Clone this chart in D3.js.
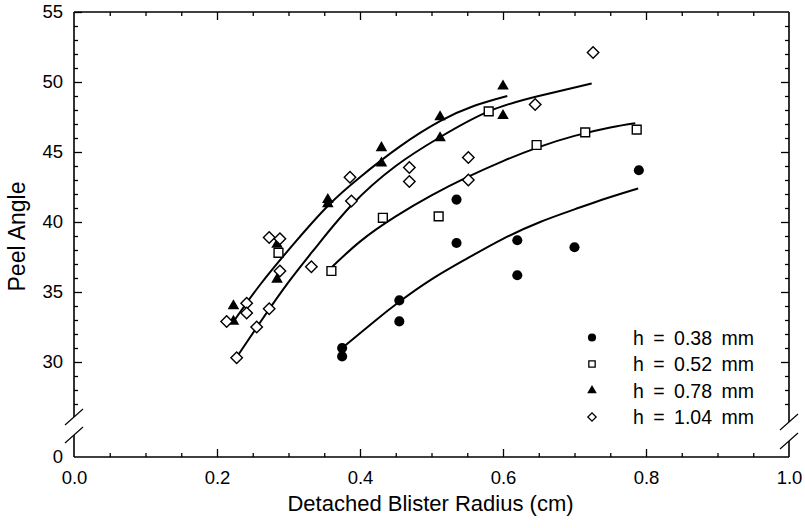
<!DOCTYPE html>
<html>
<head>
<meta charset="utf-8">
<script src="https://cdn.jsdelivr.net/npm/d3@7"></script>
<style>
  html, body { margin: 0; padding: 0; background: #fff; }
  svg { display: block; font-family: "Liberation Sans", Arial, Helvetica, sans-serif; }
</style>
</head>
<body>
<svg id="chart" width="805" height="528"></svg>
<script>
// Peel angle vs. detached blister radius for four film thicknesses h

// measured points, h = 0.38 mm (filled circles)
const h038X = [0.375, 0.375, 0.455, 0.455, 0.535, 0.535, 0.62, 0.62, 0.70, 0.79];
const h038Y = [31.0, 30.4, 34.4, 32.9, 41.6, 38.5, 38.7, 36.2, 38.2, 43.7];
// h = 0.52 mm (open squares)
const h052X = [0.286, 0.36, 0.432, 0.51, 0.58, 0.647, 0.715, 0.787];
const h052Y = [37.8, 36.5, 40.3, 40.4, 47.9, 45.5, 46.4, 46.6];
// h = 0.78 mm (filled triangles)
const h078X = [0.223, 0.223, 0.284, 0.284, 0.355, 0.355, 0.43, 0.43, 0.512, 0.512, 0.600, 0.600];
const h078Y = [34.0, 32.9, 38.4, 35.9, 41.6, 41.3, 45.3, 44.2, 47.5, 46.0, 49.7, 47.6];
// h = 1.04 mm (open diamonds)
const h104X = [0.2135, 0.2275, 0.2415, 0.2415, 0.2555, 0.273, 0.273, 0.288, 0.288, 0.332, 0.386, 0.388, 0.469, 0.469, 0.5515, 0.5515, 0.645, 0.726];
const h104Y = [32.9, 30.3, 34.2, 33.5, 32.5, 38.9, 33.8, 38.8, 36.5, 36.8, 43.2, 41.5, 43.9, 42.9, 44.6, 43.0, 48.4, 52.1];

// fitted trend curves, sampled along x
const fit038X = [0.375, 0.42, 0.455, 0.50, 0.55, 0.60, 0.652, 0.70, 0.745, 0.789];
const fit038Y = [31.0, 32.9, 34.3, 35.9, 37.4, 38.8, 40.0, 40.9, 41.7, 42.4];
const fit052X = [0.355, 0.40, 0.45, 0.50, 0.55, 0.60, 0.65, 0.70, 0.75, 0.785];
const fit052Y = [36.5, 38.6, 40.4, 41.9, 43.2, 44.35, 45.35, 46.15, 46.75, 47.05];
const fit078X = [0.222, 0.26, 0.31, 0.356, 0.40, 0.456, 0.512, 0.56, 0.606];
const fit078Y = [32.8, 35.5, 38.6, 41.2, 43.2, 45.4, 47.2, 48.3, 49.0];
const fit104X = [0.227, 0.26, 0.30, 0.34, 0.39, 0.45, 0.51, 0.58, 0.65, 0.724];
const fit104Y = [30.3, 32.8, 35.7, 38.3, 41.3, 44.0, 46.0, 47.9, 49.0, 49.9];

const legendLabels = ["h = 0.38 mm", "h = 0.52 mm", "h = 0.78 mm", "h = 1.04 mm"];
const xTickValues = [0, 0.2, 0.4, 0.6, 0.8, 1.0];
const yTickValues = [30, 35, 40, 45, 50, 55];
const yLowTickValues = [0];
const xTitle = "Detached Blister Radius (cm)";
const yTitle = "Peel Angle";

const svg = d3.select("#chart");
const FONT_TICK = 18.5;

// scales: x across the frame, upper y segment and the short segment holding 0
const x = d3.scaleLinear().domain([0, 1]).range([74, 789]);
const y = d3.scaleLinear().domain([26, 55]).range([418, 12]);
const yLow = d3.scaleLinear().domain([0, 1]).range([457, 443]);

const xL = x(0), xR = x(1), yT = y(55), yB = yLow(0);

const frame = svg.append("g").attr("stroke", "#000").attr("fill", "none").attr("stroke-width", 1.6);
// top and bottom edges
frame.append("line").attr("x1", xL).attr("x2", xR).attr("y1", yT).attr("y2", yT);
frame.append("line").attr("x1", xL).attr("x2", xR).attr("y1", yB).attr("y2", yB);
// left edge, broken
frame.append("line").attr("x1", xL).attr("x2", xL).attr("y1", yT).attr("y2", 417);
frame.append("line").attr("x1", xL).attr("x2", xL).attr("y1", 435).attr("y2", yB);
// right edge, broken
frame.append("line").attr("x1", xR).attr("x2", xR).attr("y1", yT).attr("y2", 422);
frame.append("line").attr("x1", xR).attr("x2", xR).attr("y1", 441).attr("y2", yB);

// break marks
const brk = svg.append("g").attr("stroke", "#000").attr("stroke-width", 1.1);
[[xL, 417], [xL, 435], [xR, 422], [xR, 441]].forEach(([cx, cy]) => {
  brk.append("line").attr("x1", cx - 9).attr("y1", cy + 8).attr("x2", cx + 9).attr("y2", cy - 8);
});

function styleAxis(g) {
  g.select(".domain").remove();
  g.selectAll(".tick line").attr("stroke", "#000").attr("stroke-width", 1.3);
  g.selectAll(".tick text").attr("font-size", FONT_TICK).attr("fill", "#000")
    .attr("font-family", "'Liberation Sans', Arial, sans-serif");
}

const xMinor = d3.range(1, 20).map(i => i * 0.05).filter(v => Math.abs(v * 5 - Math.round(v * 5)) > 1e-6);
const xMajorInner = [0.2, 0.4, 0.6, 0.8];
const yMinor = d3.range(27, 55).filter(v => v % 5 !== 0);

// bottom axis: labels with inward major ticks, plus minor ticks
svg.append("g").attr("transform", `translate(0,${yB})`)
  .call(d3.axisBottom(x).tickValues(xTickValues).tickFormat(d3.format(".1f")).tickSize(0).tickPadding(14))
  .call(styleAxis);
svg.append("g").attr("transform", `translate(0,${yB})`)
  .call(d3.axisBottom(x).tickValues(xMajorInner).tickFormat("").tickSize(-8))
  .call(styleAxis);
svg.append("g").attr("transform", `translate(0,${yB})`)
  .call(d3.axisBottom(x).tickValues(xMinor).tickFormat("").tickSize(-4))
  .call(styleAxis);

// top axis ticks
svg.append("g").attr("transform", `translate(0,${yT})`)
  .call(d3.axisTop(x).tickValues(xMajorInner).tickFormat("").tickSize(-8))
  .call(styleAxis);
svg.append("g").attr("transform", `translate(0,${yT})`)
  .call(d3.axisTop(x).tickValues(xMinor).tickFormat("").tickSize(-4))
  .call(styleAxis);

// left axis
svg.append("g").attr("transform", `translate(${xL},0)`)
  .call(d3.axisLeft(y).tickValues(yTickValues).tickFormat(d3.format("d")).tickSize(-8).tickPadding(11))
  .call(styleAxis);
svg.append("g").attr("transform", `translate(${xL},0)`)
  .call(d3.axisLeft(y).tickValues(yMinor).tickFormat("").tickSize(-4))
  .call(styleAxis);
svg.append("g").attr("transform", `translate(${xL},0)`)
  .call(d3.axisLeft(yLow).tickValues(yLowTickValues).tickFormat(d3.format("d")).tickSize(0).tickPadding(11))
  .call(styleAxis);

// right axis ticks
svg.append("g").attr("transform", `translate(${xR},0)`)
  .call(d3.axisRight(y).tickValues(yTickValues.filter(v => v < 55)).tickFormat("").tickSize(-8))
  .call(styleAxis);
svg.append("g").attr("transform", `translate(${xR},0)`)
  .call(d3.axisRight(y).tickValues(yMinor).tickFormat("").tickSize(-4))
  .call(styleAxis);

// axis titles
svg.append("text").attr("x", (xL + xR) / 2 - 1).attr("y", 511)
  .attr("text-anchor", "middle").attr("font-size", 22).text(xTitle);
svg.append("text").attr("transform", `translate(25,${(180 + 293) / 2}) rotate(-90)`)
  .attr("text-anchor", "middle").attr("font-size", 23).text(yTitle);

// fitted curves
const line = d3.line().x(d => x(d[0])).y(d => y(d[1])).curve(d3.curveNatural);
const fits = [[fit038X, fit038Y], [fit052X, fit052Y], [fit078X, fit078Y], [fit104X, fit104Y]];
svg.append("g").selectAll("path").data(fits).join("path")
  .attr("d", ([xs, ys]) => line(xs.map((v, i) => [v, ys[i]])))
  .attr("fill", "none").attr("stroke", "#000").attr("stroke-width", 2);

// marker styles per series
const markers = [
  { type: d3.symbolCircle, size: 80, fill: "#000", stroke: "none", rot: 0, lsize: 52 },
  { type: d3.symbolSquare, size: 78, fill: "#fff", stroke: "#000", rot: 0, lsize: 40 },
  { type: d3.symbolTriangle, size: 58, fill: "#000", stroke: "none", rot: 0, lsize: 40 },
  { type: d3.symbolSquare, size: 66, fill: "#fff", stroke: "#000", rot: 45, lsize: 34 }
];
const series = [[h038X, h038Y], [h052X, h052Y], [h078X, h078Y], [h104X, h104Y]];

series.forEach(([xs, ys], k) => {
  const m = markers[k];
  const pts = xs.map((v, i) => [v, ys[i]]);
  svg.append("g").selectAll("path").data(pts).join("path")
    .attr("d", d3.symbol().type(m.type).size(m.size))
    .attr("transform", d => `translate(${x(d[0])},${y(d[1])}) rotate(${m.rot})`)
    .attr("fill", m.fill).attr("stroke", m.stroke).attr("stroke-width", 1.4);
});

// legend
const legendRowsY = [337.5, 364, 390.5, 417];
const legend = svg.append("g");
legendLabels.forEach((label, k) => {
  const m = markers[k];
  const ly = legendRowsY[k];
  legend.append("path")
    .attr("d", d3.symbol().type(m.type).size(m.lsize))
    .attr("transform", `translate(592,${ly}) rotate(${m.rot})`)
    .attr("fill", m.fill).attr("stroke", m.stroke).attr("stroke-width", 1.3);
  legend.append("text").attr("x", 633).attr("y", ly + 7)
    .attr("font-size", 19.5).attr("word-spacing", 4).text(label);
});
</script>
</body>
</html>
